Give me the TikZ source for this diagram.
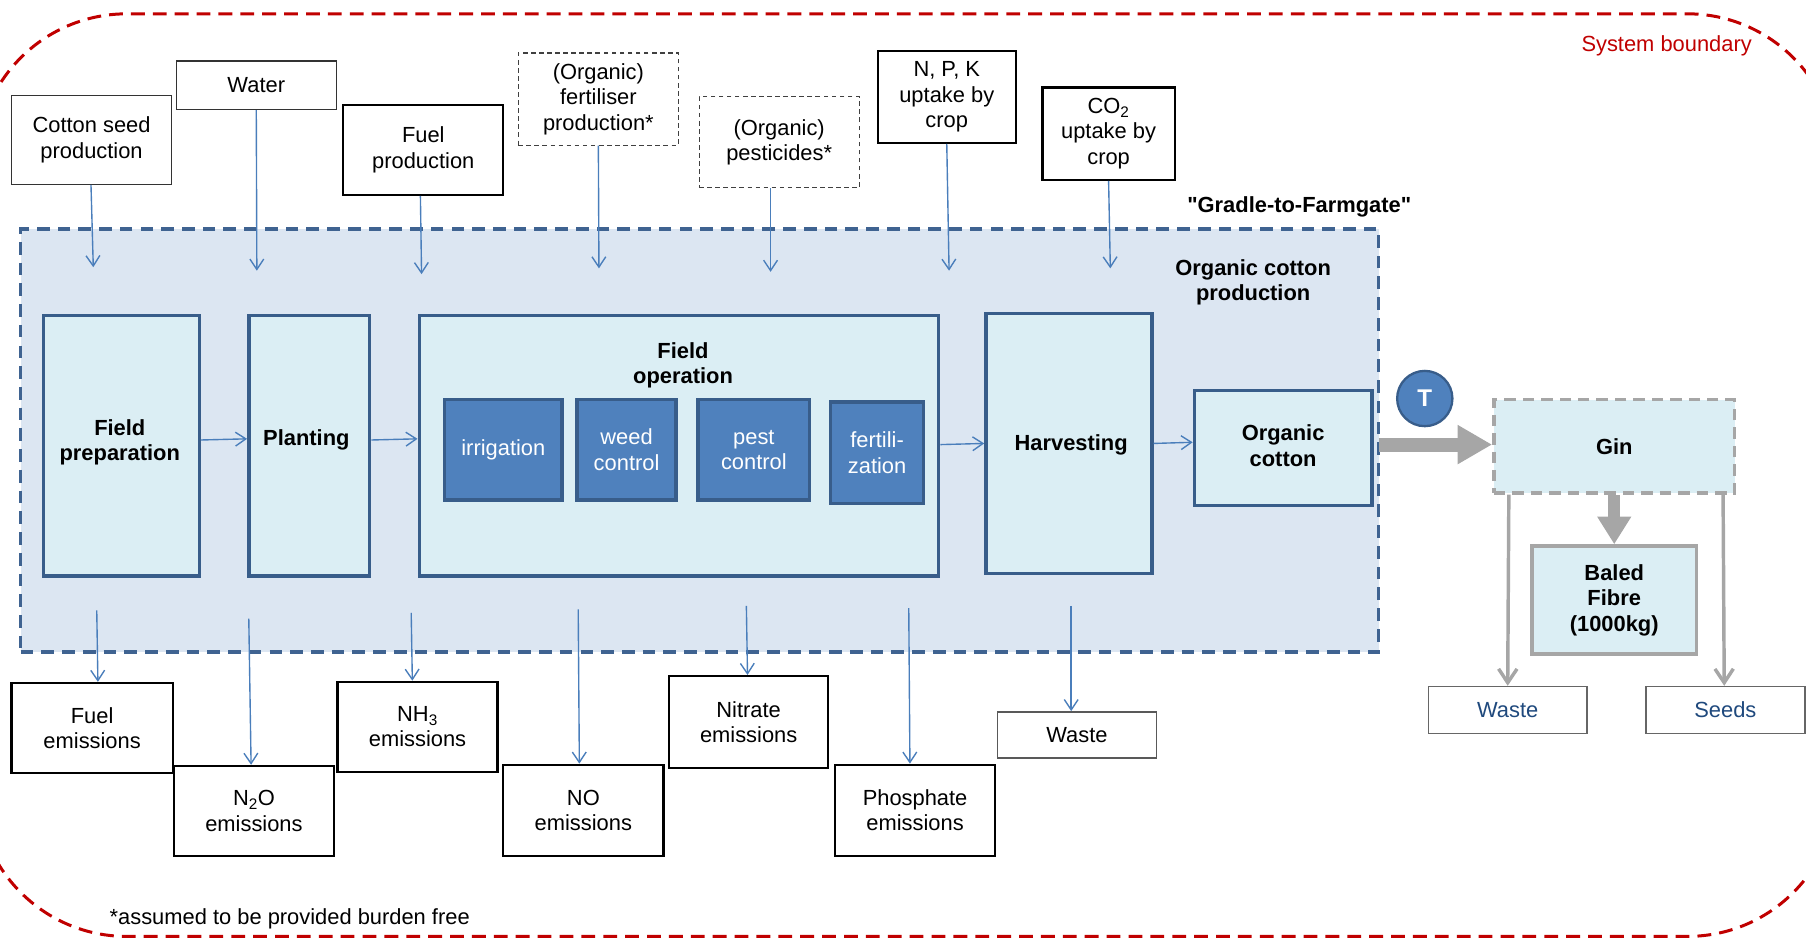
\documentclass[tikz,border=0pt]{standalone}
\usepackage{fontspec}
\setmainfont{Liberation Sans}[Ligatures=TeXOff]
\usetikzlibrary{arrows.meta,calc}
\definecolor{regfill}{HTML}{DCE6F2}
\definecolor{regline}{HTML}{3F6391}
\definecolor{procfill}{HTML}{DBEEF4}
\definecolor{procline}{HTML}{385D8A}
\definecolor{subfill}{HTML}{4F81BD}
\definecolor{arrblue}{HTML}{4A7EBB}
\definecolor{bred}{HTML}{C00000}
\definecolor{ggray}{HTML}{A6A6A6}
\definecolor{dblue}{HTML}{1F497D}
\begin{document}
\begin{tikzpicture}[x=1pt,y=-1pt,
  every node/.style={font=\fontsize{19}{22}\selectfont, inner sep=0pt, align=center},
  inbox/.style={draw=black!80, line width=1.2pt, fill=white, minimum width=139pt, minimum height=#1},
  inboxb/.style={draw=black, line width=2pt, fill=white, minimum width=139pt, minimum height=#1},
  dbox/.style={draw=black!75, line width=1pt, dash pattern=on 4pt off 3pt, fill=white, minimum width=139pt, minimum height=#1},
  proc/.style={draw=procline, line width=3pt, fill=procfill, font=\fontsize{19}{22}\selectfont\bfseries},
  sub/.style={draw=procline, line width=3pt, fill=subfill, text=white},
  barr/.style={draw=arrblue, line width=1.2pt, -{Straight Barb[length=9pt,width=12pt]}},
  garr/.style={draw=ggray, line width=3pt, -{Straight Barb[length=12pt,width=16pt]}},
  lbl/.style={font=\fontsize{19}{22}\selectfont\bfseries}
]
\useasboundingbox (0,0) rectangle (1568,817);
% system boundary
\draw[bred, line width=2.6pt, dash pattern=on 12pt off 7pt, rounded corners=130pt] (-20,12) rectangle (1595,813);
\node[text=bred] (sysb) at (1447,40) {System boundary};
\node[anchor=west] (fn) at (95,798) {*assumed to be provided burden free};

% region
\node[draw=regline, fill=regfill, line width=3pt, dash pattern=on 11pt off 7pt,
      minimum width=1179pt, minimum height=367pt] (region) at (607.5,382.5) {};
\node[lbl] (gtf) at (1128,180) {"Gradle-to-Farmgate"};
\node[lbl] (ocp) at (1088,245) {Organic cotton\\production};

% inputs
\node[inbox=77pt] (cs) at (79.5,121.5) {Cotton seed\\production};
\node[inbox=42pt] (water) at (222.5,74) {Water};
\node[inboxb=78pt] (fuel) at (367.5,130) {Fuel\\production};
\node[dbox=80pt] (fert) at (519.5,86) {(Organic)\\fertiliser\\production*};
\node[dbox=79pt] (pest) at (676.5,123.5) {(Organic)\\pesticides*};
\node[inboxb=80pt, minimum width=120pt] (npk) at (822,84) {N, P, K\\uptake by\\crop};
\node[inboxb=80pt, minimum width=115pt] (co2) at (962.5,116) {CO\textsubscript{2}\\uptake by\\crop};

\coordinate (csE) at (81,232);
\coordinate (waterE) at (223,235);
\coordinate (fuelE) at (366,238);
\coordinate (fertE) at (520,233);
\coordinate (pestE) at (669,236);
\coordinate (npkE) at (824,235);
\coordinate (co2E) at (964,233);
\draw[barr] (cs.south -| 79,0) -- (csE);
\draw[barr] (water.south) -- (waterE);
\draw[barr] (fuel.south -| 365,0) -- (fuelE);
\draw[barr] (fert.south) -- (fertE);
\draw[barr] (pest.south -| pestE) -- (pestE);
\draw[barr] (npk.south) -- (npkE);
\draw[barr] (co2.south) -- (co2E);

% process
\node[proc, minimum width=135pt, minimum height=226pt] (fp) at (105.5,387) {};
\node[lbl] (fpt) at (104,384) {Field\\preparation};
\node[proc, minimum width=105pt, minimum height=226pt] (plant) at (268.5,387) {};
\node[lbl] (plantt) at (266,382) {Planting};
\node[proc, minimum width=451pt, minimum height=226pt] (fop) at (589.5,387) {};
\node[lbl] (fopt) at (593,317) {Field\\operation};
\node[sub, minimum width=102pt, minimum height=87pt] (irr) at (437,390.5) {irrigation};
\node[sub, minimum width=86pt, minimum height=87pt] (weed) at (544,390.5) {weed\\control};
\node[sub, minimum width=97pt, minimum height=87pt] (pc) at (654.5,390.5) {pest\\control};
\node[sub, minimum width=81pt, minimum height=88pt] (fz) at (761.5,393) {fertili-\\zation};
\node[proc, minimum width=144pt, minimum height=226pt] (harv) at (928,385) {};
\node[lbl] (harvt) at (930,386) {Harvesting};
\node[proc, minimum width=154pt, minimum height=100pt] (oc) at (1114,389) {};
\node[lbl] (oct) at (1114,387) {Organic\\cotton};

\draw[barr] (fp.east |- 0,382) -- (plant.west |- 0,381);
\draw[barr] (plant.east |- 0,382) -- (fop.west |- 0,381);
\draw[barr] (fop.east |- 0,386) -- (harv.west |- 0,385);
\draw[barr] (harv.east |- 0,385) -- (oc.west |- 0,384);

% T and gin
\node[circle, draw=procline, line width=2pt, fill=subfill, minimum size=48pt, text=white, font=\fontsize{21}{24}\selectfont\bfseries] (T) at (1237,346) {T};
\node[draw=ggray, line width=3pt, dash pattern=on 10pt off 6pt, fill=procfill, minimum width=209pt, minimum height=81pt, font=\fontsize{19}{22}\selectfont\bfseries] (gin) at (1401.5,387.5) {Gin};
\node[draw=ggray, line width=3pt, fill=procfill, minimum width=143pt, minimum height=94pt, font=\fontsize{19}{22}\selectfont\bfseries] (baled) at (1401.5,521) {Baled\\Fibre\\(1000kg)};
\node[draw=black!60, line width=1.2pt, fill=white, minimum width=138pt, minimum height=41pt, text=dblue] (waste2) at (1309,616.5) {Waste};
\node[draw=black!60, line width=1.2pt, fill=white, minimum width=138pt, minimum height=41pt, text=dblue] (seeds) at (1498,616.5) {Seeds};

\coordinate (ocS) at (1197,386);
\draw[ggray, line width=12pt, -{Triangle[length=30pt,width=32pt]}] (ocS) -- (gin.west |- 0,386);
\draw[ggray, line width=10pt, -{Triangle[length=24pt,width=28pt]}] (gin.south |- 0,430) -- (baled.north);
\draw[garr] (gin.south -| 1310,0) -- (waste2.north);
\draw[garr] (gin.south -| 1496,0) -- (seeds.north -| 1497,0);

% outputs
\node[inboxb=78pt, minimum width=140pt] (fe) at (80,632) {Fuel\\emissions};
\node[inboxb=78pt] (n2o) at (220.5,704) {N\textsubscript{2}O\\emissions};
\node[inboxb=78pt] (nh3) at (362.5,631) {NH\textsubscript{3}\\emissions};
\node[inboxb=79pt] (no) at (506.5,703.5) {NO\\emissions};
\node[inboxb=80pt, minimum width=138pt] (nit) at (650,627) {Nitrate\\emissions};
\node[inboxb=79pt] (phos) at (794.5,703.5) {Phosphate\\emissions};
\node[inbox=40pt, minimum width=138pt, draw=black!65] (waste1) at (935,638) {Waste};

\coordinate (feS) at (84,530);
\coordinate (n2oS) at (216,537);
\coordinate (nh3S) at (357,532);
\coordinate (noS) at (502,529);
\coordinate (nitS) at (648,526);
\coordinate (phosS) at (789,528);
\coordinate (wS) at (930,526);
\draw[barr] (feS) -- (fe.north -| 85,0);
\draw[barr] (n2oS) -- (n2o.north -| 218,0);
\draw[barr] (nh3S) -- (nh3.north -| 358,0);
\draw[barr] (noS) -- (no.north -| 503,0);
\draw[barr] (nitS) -- (nit.north -| 649,0);
\draw[barr] (phosS) -- (phos.north -| 790,0);
\draw[barr] (wS) -- (waste1.north -| 930,0);
\end{tikzpicture}
\end{document}
